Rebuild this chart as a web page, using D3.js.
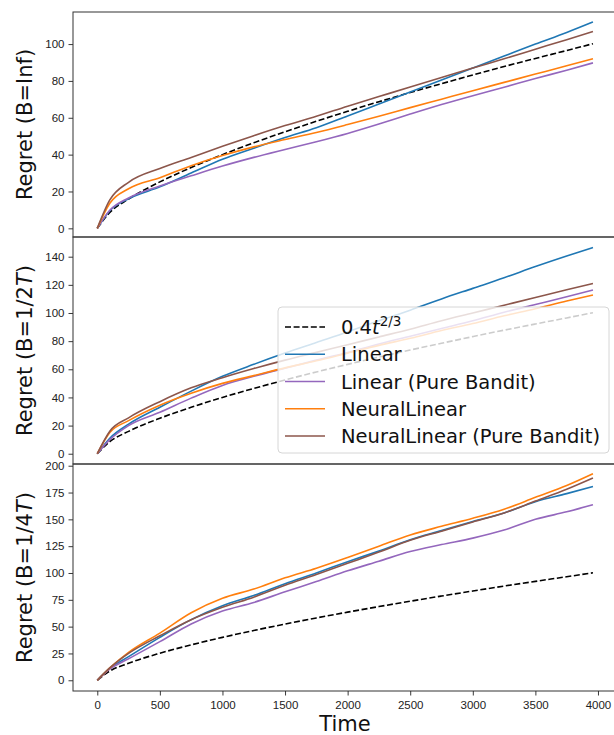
<!DOCTYPE html>
<html>

<head>
    <meta charset="utf-8">
    <style>
        body {
            margin: 0;
            background: white;
        }

        svg {
            font-family: 'DejaVu Sans', sans-serif;
        }

        .tick text {
            font-size: 11.5px;
            fill: #222;
        }
    </style>
</head>

<body>
    <svg width="614" height="735"></svg>
</body>

<script src="https://d3js.org/d3.v7.min.js"></script>

<script>
    // time steps the curves were read at
    let steps = [0, 100, 250, 500, 750, 1000, 1250, 1500, 1750, 2000, 2250, 2500, 2750, 3000, 3250, 3500, 3750, 3960]

    // reference curve 0.4 t^(2/3), same in all panels
    let bound = [0, 8.6, 15.9, 25.2, 33.0, 40.0, 46.4, 52.4, 58.1, 63.5, 68.7, 73.7, 78.5, 83.2, 87.8, 92.2, 96.5, 100.2]

    // B = Inf
    let linearInf = [0, 9.5, 16, 22.5, 30, 37.5, 43.5, 49.3, 54.6, 61, 67.5, 74, 80.5, 87, 93.5, 100, 106.3, 112]
    let linearPureInf = [0, 9.8, 16.5, 23, 28.5, 33.8, 38.5, 42.8, 47, 51.5, 56.6, 62, 67.2, 72, 76.6, 81.3, 85.8, 89.8]
    let neuralInf = [0, 13.6, 21.5, 27.5, 34, 39.5, 44.2, 48.2, 52, 56.3, 60.8, 65.5, 70.1, 74.7, 79.2, 83.7, 88.2, 92]
    let neuralPureInf = [0, 15.4, 25, 32.5, 38.5, 44.5, 50.3, 55.8, 60.8, 66.3, 71.5, 76.7, 81.8, 87, 92, 97.2, 102.4, 106.8]

    // B = 1/2T
    let linearHalf = [0, 11, 21, 33, 44.5, 55, 63.5, 71.5, 79, 86.5, 94.5, 102, 110, 117.5, 125, 133, 140.5, 146.5]
    let linearPureHalf = [0, 10, 20, 29.5, 39.5, 48.5, 55, 60.8, 66.5, 72, 78, 83.5, 89, 94.5, 100.5, 106, 111.5, 116.3]
    let neuralHalf = [0, 15, 23.5, 34.5, 43, 50, 55.5, 61, 66, 71.5, 77, 82, 87.5, 92.5, 98, 103, 108.5, 112.8]
    let neuralPureHalf = [0, 16, 25.5, 37, 46.8, 54, 60.5, 66.5, 72, 77.5, 83, 88.5, 94.5, 100, 105.5, 111, 116.5, 121]

    // B = 1/4T
    let linearQuarter = [0, 11, 22, 40, 56.5, 69.5, 79, 90, 100, 110.5, 120.5, 131, 139.5, 148, 156, 166.5, 174, 180.6]
    let linearPureQuarter = [0, 10.5, 20, 36, 52.5, 64.5, 72.5, 82.5, 92, 102, 111, 120, 126.5, 132.5, 140, 150, 157, 163.6]
    let neuralQuarter = [0, 11.5, 26, 44, 63, 76.5, 85, 95.5, 104.5, 114.5, 125, 135.5, 143.5, 151, 159.5, 170.5, 181.5, 192.5]
    let neuralPureQuarter = [0, 11.5, 25, 41.5, 56.5, 68, 77.5, 88.5, 98.5, 109, 119.5, 130.5, 139, 147.5, 156, 167, 178, 188.5]

    let seriesNames = ["Linear", "Linear (Pure Bandit)", "NeuralLinear", "NeuralLinear (Pure Bandit)"]
    let seriesColors = ["#1f77b4", "#9467bd", "#ff7f0e", "#8c564b"]
    let xTicks = [0, 500, 1000, 1500, 2000, 2500, 3000, 3500, 4000]

    let panels = [
        { label: ["Regret (B=Inf)"], series: [linearInf, linearPureInf, neuralInf, neuralPureInf],
          top: 12, bottom: 237, domain: [-4.7, 117.4], ticks: [0, 20, 40, 60, 80, 100] },
        { label: ["Regret (B=1/2", "T", ")"], series: [linearHalf, linearPureHalf, neuralHalf, neuralPureHalf],
          top: 237, bottom: 464, domain: [-7.3, 154], ticks: [0, 20, 40, 60, 80, 100, 120, 140] },
        { label: ["Regret (B=1/4", "T", ")"], series: [linearQuarter, linearPureQuarter, neuralQuarter, neuralPureQuarter],
          top: 464, bottom: 691, domain: [-10, 201.6], ticks: [0, 25, 50, 75, 100, 125, 150, 175, 200] }
    ]

    let svg = d3.select("svg")
    let left = 73, right = 618

    let x = d3.scaleLinear().domain([-194, 4160]).range([left, right])

    panels.forEach(function (p, i) {
        let y = d3.scaleLinear().domain(p.domain).range([p.bottom, p.top])
        let g = svg.append("g")

        let line = d3.line()
            .x((d, k) => x(steps[k]))
            .y(d => y(d))
            .curve(d3.curveMonotoneX)

        // dashed bound first, then the four methods
        g.append("path")
            .attr("d", line(bound))
            .attr("fill", "none")
            .attr("stroke", "black")
            .attr("stroke-width", 1.6)
            .attr("stroke-dasharray", "6,2.6")

        p.series.forEach(function (s, j) {
            g.append("path")
                .attr("d", line(s))
                .attr("fill", "none")
                .attr("stroke", seriesColors[j])
                .attr("stroke-width", 1.6)
        })

        // y axis
        let yAxis = g.append("g")
            .attr("transform", "translate(" + left + ",0)")
            .call(d3.axisLeft(y).tickValues(p.ticks).tickSize(4.5).tickPadding(4))
        yAxis.select(".domain").remove()
        yAxis.selectAll(".tick line").attr("stroke", "#222").attr("stroke-width", 0.9)

        // frame
        g.append("rect")
            .attr("x", left)
            .attr("y", p.top)
            .attr("width", right - left)
            .attr("height", p.bottom - p.top)
            .attr("fill", "none")
            .attr("stroke", "#333")
            .attr("stroke-width", 1)

        // y label, with italic T for the budget panels
        let cy = (p.top + p.bottom) / 2
        let lab = g.append("text")
            .attr("transform", "translate(25," + cy + ") rotate(-90)")
            .attr("text-anchor", "middle")
            .attr("dominant-baseline", "central")
            .attr("font-size", 21)
            .attr("fill", "#111")
        p.label.forEach(function (part, k) {
            lab.append("tspan")
                .text(part)
                .attr("font-style", k == 1 ? "italic" : null)
        })

        if (i == 2) {
            let xAxis = g.append("g")
                .attr("transform", "translate(0," + p.bottom + ")")
                .call(d3.axisBottom(x).tickValues(xTicks).tickFormat(d3.format("d")).tickSize(4.5).tickPadding(5))
            xAxis.select(".domain").remove()
            xAxis.selectAll(".tick line").attr("stroke", "#222").attr("stroke-width", 0.9)

            svg.append("text")
                .attr("x", 345)
                .attr("y", 731)
                .attr("text-anchor", "middle")
                .attr("font-size", 21)
                .attr("fill", "#111")
                .text("Time")
        }

        if (i == 1) {
            // legend box sits over the lines, semi transparent
            let lg = svg.append("g")
            lg.append("rect")
                .attr("x", 278)
                .attr("y", 307)
                .attr("width", 331)
                .attr("height", 146)
                .attr("rx", 4)
                .attr("fill", "white")
                .attr("fill-opacity", 0.8)
                .attr("stroke", "#d6d6d6")
                .attr("stroke-width", 1)

            let rowY = d3.scaleLinear().domain([0, 4]).range([327, 436])

            lg.append("line")
                .attr("x1", 285).attr("x2", 325)
                .attr("y1", rowY(0)).attr("y2", rowY(0))
                .attr("stroke", "black")
                .attr("stroke-width", 1.6)
                .attr("stroke-dasharray", "6,2.6")

            let t0 = lg.append("text")
                .attr("x", 341)
                .attr("y", rowY(0) + 7)
                .attr("font-size", 19.5)
                .attr("fill", "#111")
            t0.append("tspan").text("0.4")
            t0.append("tspan").text("t").attr("font-style", "italic")
            t0.append("tspan").text("2/3").attr("font-size", 13.5).attr("dy", -8)

            seriesNames.forEach(function (name, j) {
                lg.append("line")
                    .attr("x1", 285).attr("x2", 325)
                    .attr("y1", rowY(j + 1)).attr("y2", rowY(j + 1))
                    .attr("stroke", seriesColors[j])
                    .attr("stroke-width", 1.6)
                lg.append("text")
                    .attr("x", 341)
                    .attr("y", rowY(j + 1) + 7)
                    .attr("font-size", 19.5)
                    .attr("fill", "#111")
                    .text(name)
            })
        }
    })
</script>

</html>
